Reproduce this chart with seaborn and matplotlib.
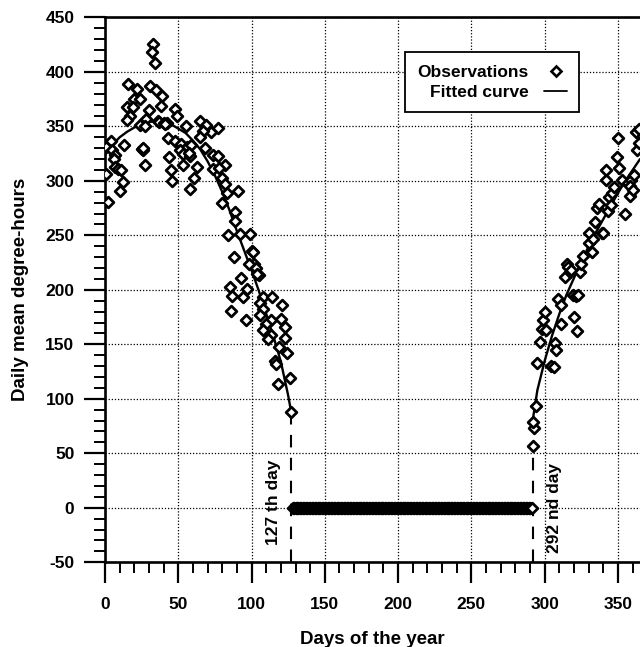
import matplotlib
matplotlib.use("Agg")
import matplotlib.pyplot as plt
from matplotlib.ticker import MultipleLocator
from matplotlib.lines import Line2D
import seaborn as sns
import pandas as pd

# ---------------- data ----------------
left_obs_days = [33, 32, 34, 16, 31, 35, 22, 39, 20, 24, 15, 19, 38, 30, 48, 17, 15, 49, 28, 65,
                 24, 27, 55, 36, 42, 69, 72, 77, 67, 65, 43, 48, 4, 1, 13, 5, 25, 26, 52, 56,
                 59, 51, 53, 58, 68, 74, 77, 7, 44, 6, 7, 9, 11, 27, 53, 63, 82, 74, 78, 1,
                 45, 61, 80, 46, 12, 10, 58, 82, 83, 91, 2, 80, 89, 89, 84, 92, 99, 88, 100, 102,
                 98, 103, 105, 93, 85, 97, 94, 87, 108, 114, 106, 121, 108, 86, 106, 96, 113, 120, 110, 108,
                 123, 113, 111, 123, 119, 124, 116, 117, 118, 126, 127, 37, 40, 41, 26, 57, 101, 104]
left_obs_vals = [426, 418, 408, 389, 387, 383, 384, 378, 375, 375, 368, 368, 369, 365, 366, 360, 356, 360, 357, 355,
                 351, 350, 350, 355, 353, 351, 345, 349, 346, 340, 339, 337, 337, 331, 333, 328, 329, 328, 334, 331,
                 333, 328, 325, 323, 330, 324, 323, 324, 322, 320, 313, 311, 310, 315, 315, 313, 315, 311, 312, 306,
                 310, 303, 303, 300, 299, 291, 293, 297, 289, 291, 281, 280, 271, 263, 250, 251, 251, 230, 236, 224,
                 224, 220, 214, 211, 203, 201, 193, 194, 193, 193, 188, 186, 182, 181, 177, 172, 172, 173, 169, 163,
                 166, 159, 155, 156, 148, 142, 135, 132, 114, 119, 88, 354, 353, 352, 330, 326, 235, 215]

right_obs_days = [292, 293, 292, 294, 295, 297, 298, 299, 300, 301, 304, 306, 307, 308, 309, 311, 311, 314, 315, 317,
                  319, 320, 321, 322, 323, 324, 325, 330, 330, 332, 334, 336, 337, 339, 340, 342, 342, 343, 344, 345,
                  349, 350, 351, 353, 355, 357, 358, 359, 361, 362, 363, 364, 316, 318, 326, 333, 346, 347, 358, 360,
                  364]
right_obs_vals = [57, 73, 79, 93, 133, 152, 164, 172, 180, 163, 130, 129, 151, 145, 192, 169, 186, 212, 224, 216,
                  195, 175, 194, 162, 195, 216, 224, 243, 252, 235, 262, 275, 279, 252, 252, 301, 310, 272, 285, 278,
                  322, 339, 312, 301, 270, 298, 286, 301, 305, 345, 328, 348, 221, 218, 231, 247, 289, 294, 295, 292,
                  335]

zero_first_day, zero_last_day = 128, 291
zero_days = list(range(zero_first_day, zero_last_day + 1))
zero_vals = [0] * len(zero_days)

curve_left_days = [0, 5, 10, 15, 20, 25, 30, 35, 40, 45, 50, 55, 60, 65, 70, 75, 80, 85, 90, 95,
                   100, 105, 110, 115, 120, 125, 127]
curve_left_vals = [324, 333, 340, 345, 349, 352, 354, 355, 354, 352, 348, 344, 337, 329, 318, 305, 290, 273, 254, 236,
                   218, 199, 178, 157, 134, 103, 88]
curve_right_days = [292, 295, 300, 305, 310, 315, 320, 325, 330, 335, 340, 345, 350, 355, 360, 365]
curve_right_vals = [82, 108, 135, 158, 178, 196, 211, 226, 240, 253, 265, 277, 289, 300, 310, 320]

cut_days = [127, 292]
cut_tops = [85, 55]
cut_labels = ["127 th day", "292 nd day"]

x_ticks = [0, 50, 100, 150, 200, 250, 300, 350]
y_ticks = [-50, 0, 50, 100, 150, 200, 250, 300, 350, 400, 450]

# ---------------- style ----------------
sns.set_style("ticks")
plt.rcParams["font.family"] = ["Liberation Sans", "DejaVu Sans"]
plt.rcParams["font.weight"] = "bold"
plt.rcParams["axes.unicode_minus"] = False
plt.rcParams["text.color"] = "black"
plt.rcParams["axes.labelcolor"] = "black"
plt.rcParams["xtick.color"] = "black"
plt.rcParams["ytick.color"] = "black"

fig = plt.figure(figsize=(6.4, 6.47), dpi=100)
ax = fig.add_axes([0.164, 0.131, 0.836, 0.842])

obs = pd.DataFrame({
    "day": left_obs_days + zero_days + right_obs_days,
    "val": left_obs_vals + zero_vals + right_obs_vals,
})

sns.scatterplot(data=obs, x="day", y="val", marker="D", s=30, facecolor="white",
                edgecolor="black", linewidth=2.0, ax=ax, zorder=4, legend=False)

sns.lineplot(x=curve_left_days, y=curve_left_vals, color="black", lw=1.7, ax=ax, zorder=3,
             estimator=None, sort=True)
sns.lineplot(x=curve_right_days, y=curve_right_vals, color="black", lw=1.7, ax=ax, zorder=3,
             estimator=None, sort=True)

for d, top in zip(cut_days, cut_tops):
    ax.plot([d, d], [-50, top], color="black", lw=1.5, ls=(0, (6, 5)), zorder=2)

ax.text(115, 5, cut_labels[0], rotation=90, ha="center", va="center",
        fontsize=12.5, fontweight="bold", color="black")
ax.text(306.5, 0, cut_labels[1], rotation=90, ha="center", va="center",
        fontsize=12.5, fontweight="bold", color="black")

ax.set_xlim(0, 365)
ax.set_ylim(-50, 450)
ax.set_xticks(x_ticks)
ax.set_yticks(y_ticks)
ax.xaxis.set_minor_locator(MultipleLocator(10))
ax.yaxis.set_minor_locator(MultipleLocator(10))

ax.grid(True, which="major", color="black", ls=(0, (1, 1.5)), lw=0.9)
ax.set_axisbelow(True)

ax.tick_params(axis="both", which="major", direction="out", length=15, width=1.6,
               labelsize=12.5, color="black", labelcolor="black")
ax.tick_params(axis="both", which="minor", direction="out", length=8, width=1.4, color="black")
ax.tick_params(axis="x", which="major", pad=10)
ax.tick_params(axis="y", which="major", pad=7)
for lab in ax.get_xticklabels() + ax.get_yticklabels():
    lab.set_fontweight("bold")

for s in ["left", "bottom", "top"]:
    ax.spines[s].set_linewidth(1.9)
    ax.spines[s].set_color("black")
ax.spines["right"].set_visible(False)

ax.set_xlabel("Days of the year", fontsize=13.5, fontweight="bold", labelpad=14, color="black")
ax.set_ylabel("Daily mean degree-hours", fontsize=13.5, fontweight="bold", labelpad=12, color="black")

handles = [
    Line2D([], [], marker="D", ls="none", markersize=5, markerfacecolor="white",
           markeredgecolor="black", markeredgewidth=1.9),
    Line2D([], [], color="black", lw=1.3),
]
leg = ax.legend(handles, ["Observations", "Fitted curve"], loc="upper left",
                bbox_to_anchor=(0.545, 0.952), markerfirst=False, frameon=True,
                fancybox=False, edgecolor="black", framealpha=1, handlelength=1.3,
                handletextpad=0.9, borderpad=0.7, labelspacing=0.3,
                prop={"size": 12.5, "weight": "bold"})
leg.get_frame().set_linewidth(1.3)
leg.set_zorder(10)
for t in leg.get_texts():
    t.set_color("black")

fig.savefig("out.png", dpi=100)
